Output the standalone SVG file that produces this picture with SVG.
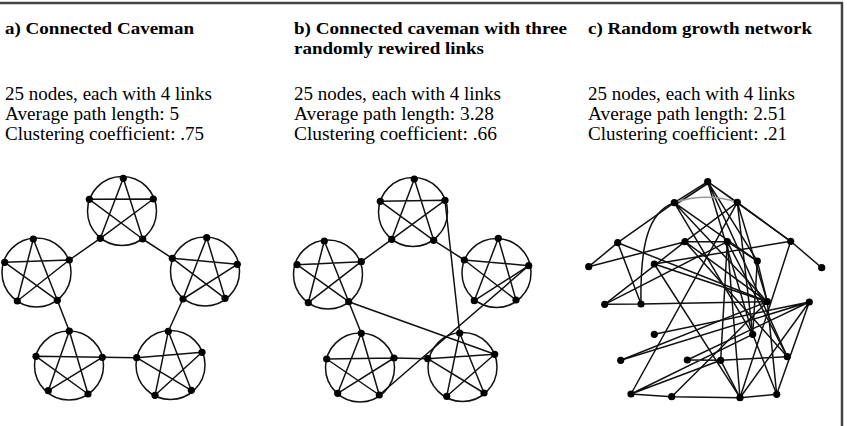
<svg xmlns="http://www.w3.org/2000/svg" width="847" height="426" viewBox="0 0 847 426">
<style>
.t{font-family:"Liberation Serif","Times New Roman",serif;font-size:18px;fill:#000}
.h{font-weight:bold;font-size:17px}
.e{stroke:#111;stroke-width:1.5;fill:none;stroke-linecap:round}
.r{stroke:#111;stroke-width:1.5;fill:none}
.n{fill:#000}
.frame{stroke:#444;stroke-width:2.5;fill:none}
</style>
<rect x="0" y="0" width="847" height="426" fill="#fff"/>
<path class="frame" d="M0,3 H842 V426"/>

<g id="labels">
<text class="t h" x="5" y="33.5" textLength="189" lengthAdjust="spacingAndGlyphs">a) Connected Caveman</text>
<text class="t h" x="294" y="33.5" textLength="273" lengthAdjust="spacingAndGlyphs">b) Connected caveman with three</text>
<text class="t h" x="294" y="53.5" textLength="190" lengthAdjust="spacingAndGlyphs">randomly rewired links</text>
<text class="t h" x="588" y="33.5" textLength="224" lengthAdjust="spacingAndGlyphs">c) Random growth network</text>
<text class="t" x="5" y="100" textLength="207" lengthAdjust="spacingAndGlyphs">25 nodes, each with 4 links</text>
<text class="t" x="5" y="120" textLength="174" lengthAdjust="spacingAndGlyphs">Average path length: 5</text>
<text class="t" x="5" y="140" textLength="199" lengthAdjust="spacingAndGlyphs">Clustering coefficient: .75</text>
<text class="t" x="294" y="100" textLength="207" lengthAdjust="spacingAndGlyphs">25 nodes, each with 4 links</text>
<text class="t" x="294" y="120" textLength="200" lengthAdjust="spacingAndGlyphs">Average path length: 3.28</text>
<text class="t" x="294" y="140" textLength="203" lengthAdjust="spacingAndGlyphs">Clustering coefficient: .66</text>
<text class="t" x="588" y="100" textLength="207" lengthAdjust="spacingAndGlyphs">25 nodes, each with 4 links</text>
<text class="t" x="588" y="120" textLength="199" lengthAdjust="spacingAndGlyphs">Average path length: 2.51</text>
<text class="t" x="588" y="140" textLength="199" lengthAdjust="spacingAndGlyphs">Clustering coefficient: .21</text>
</g>

<g id="connectors">
<!-- panel a rings and stars -->
<circle class="r" cx="122" cy="211" r="34.5"/>
<path class="e" d="M123.3,178.3L100.3,238.3M123.3,178.3L142.7,239M89.3,199.3L153.3,199M89.3,199.3L142.7,239M153.3,199L100.3,238.3"/>
<circle class="r" cx="36.5" cy="272.5" r="34.5"/>
<path class="e" d="M33.3,239L17.3,301M33.3,239L57.3,300.3M4.7,262.3L69.3,260M4.7,262.3L57.3,300.3M69.3,260L17.3,301"/>
<circle class="r" cx="205" cy="271.5" r="34.5"/>
<path class="e" d="M206.7,237.7L183,299M206.7,237.7L225,298.3M172.3,258.3L237.3,264.3M172.3,258.3L225,298.3M237.3,264.3L183,299"/>
<circle class="r" cx="69" cy="365.5" r="34.5"/>
<path class="e" d="M69.3,331L48.3,390.7M69.3,331L88,394M36,356.3L102.3,357.3M36,356.3L88,394M102.3,357.3L48.3,390.7"/>
<circle class="r" cx="170.5" cy="365" r="34.5"/>
<path class="e" d="M168.3,331.3L155,395.3M168.3,331.3L191.3,390.3M136.7,357.7L202,352.3M136.7,357.7L191.3,390.3M202,352.3L155,395.3"/>
<path class="e" d="M100.3,238.3L69.3,260M142.7,239L172.3,258.3M57.3,300.3L69.3,331M183,299L168.3,331.3M102.3,357.3L136.7,357.7"/>

<!-- panel b rings and stars -->
<circle class="r" cx="413" cy="212" r="34.5"/>
<path class="e" d="M414.3,179L391.7,239.3M414.3,179L433.7,240.3M380.3,201.3L445,200.3M380.3,201.3L433.7,240.3M445,200.3L391.7,239.3"/>
<circle class="r" cx="328" cy="274.5" r="34.5"/>
<path class="e" d="M324.3,241L308.3,302.7M324.3,241L348.7,301.7M297,264.7L361.3,261.7M297,264.7L348.7,301.7M361.3,261.7L308.3,302.7"/>
<circle class="r" cx="496.5" cy="273" r="34.5"/>
<path class="e" d="M498.3,238.3L474.3,300.7M498.3,238.3L516,300M464.3,260L528.7,265.7M464.3,260L516,300M528.7,265.7L474.3,300.7"/>
<circle class="r" cx="360" cy="367.5" r="34.5"/>
<path class="e" d="M361.3,333.3L337.7,393.3M361.3,333.3L379.3,395M326.7,359L394,358M326.7,359L379.3,395M394,358L337.7,393.3"/>
<circle class="r" cx="462.5" cy="367" r="34.5"/>
<path class="e" d="M459.7,333L446.7,396.3M459.7,333L484,393M427.7,358.7L494.7,354.3M427.7,358.7L484,393M494.7,354.3L446.7,396.3"/>
<path class="e" d="M391.7,239.3L361.3,261.7M433.7,240.3L464.3,260M348.7,301.7L361.3,333.3M394,358L427.7,358.7"/>
<path class="e" d="M445,200.3L459.7,333M348.7,301.7L494.7,354.3M528.7,265.7L379.3,395"/>

<!-- panel c -->
<path class="e" d="M707.7,181.7L674.3,202.7M707.7,183.5L675.5,204.5M707.7,181.7L737.3,202.3M707.7,181.7L790.7,241.3M707.7,181.7L757.3,261M707.7,181.7L752.7,334.3M707.7,181.7L787.3,356.7"/>
<path d="M674.3,202.7Q706,192 737.3,202.3" fill="none" stroke="#999" stroke-width="1.6"/>
<path class="e" d="M674.3,202.7C648,212 640,245 641,304"/>
<path class="e" d="M674.3,202.7L617.7,242.7M674.3,202.7L767.3,301.7M674.3,202.7L757.3,261M674.3,202.7L752.7,334.3"/>
<path class="e" d="M737.3,202.3L685,241.7M737.3,202.3L790.7,241.3M737.3,202.3L631,394M737.3,202.3L752.7,334.3M737.3,202.3L767.3,301.7"/>
<path class="e" d="M617.7,242.7L588.7,266.7M617.7,242.7L641,304M617.7,242.7L767.3,301.7"/>
<path class="e" d="M685,241.7L727.3,241.7M685,241.7L588.7,266.7M685,241.7L604.7,304.3M685,241.7L787.3,356.7M685,241.7L767.3,301.7"/>
<path class="e" d="M727.3,241.7L604.7,304.3M727.3,241.7L720.7,360.3M727.3,241.7L757.3,261M727.3,241.7L740,397.7M727.3,241.7L787.3,356.7"/>
<path class="e" d="M790.7,241.3L821.7,267.7M790.7,241.3L740,397.7M790.7,241.3L654.3,264"/>
<path class="e" d="M654.3,264L740,397.7M654.3,264L767.3,301.7"/>
<path class="e" d="M757.3,261L767.3,301.7M757.3,261L752.7,334.3"/>
<path class="e" d="M604.7,304.3L641,304M641,304L767.3,301.7"/>
<path class="e" d="M809.3,302L654.3,334.3M809.3,302L620.7,360.3M809.3,302L776.7,394.3M809.3,302L740,397.7M809.3,302L687.3,360"/>
<path class="e" d="M767.3,301.7L620.7,360.3M767.3,301.7L671.7,396.7M767.3,301.7L776.7,394.3"/>
<path class="e" d="M687.3,360L720.7,360.3M720.7,360.3L787.3,356.7M720.7,360.3L740,397.7M631,394L720.7,360.3M631,394L752.7,334.3"/>
<path class="e" d="M631,394L671.7,396.7M671.7,396.7L740,397.7M740,397.7L776.7,394.3M752.7,334.3L776.7,394.3"/>
</g>

<g id="nodes">
<g id="a-top"><circle class="n" cx="123.3" cy="178.3" r="3.6"/><circle class="n" cx="89.3" cy="199.3" r="3.6"/><circle class="n" cx="153.3" cy="199" r="3.6"/><circle class="n" cx="100.3" cy="238.3" r="3.6"/><circle class="n" cx="142.7" cy="239" r="3.6"/></g>
<g id="a-left"><circle class="n" cx="33.3" cy="239" r="3.6"/><circle class="n" cx="4.7" cy="262.3" r="3.6"/><circle class="n" cx="69.3" cy="260" r="3.6"/><circle class="n" cx="17.3" cy="301" r="3.6"/><circle class="n" cx="57.3" cy="300.3" r="3.6"/></g>
<g id="a-right"><circle class="n" cx="206.7" cy="237.7" r="3.6"/><circle class="n" cx="172.3" cy="258.3" r="3.6"/><circle class="n" cx="237.3" cy="264.3" r="3.6"/><circle class="n" cx="183" cy="299" r="3.6"/><circle class="n" cx="225" cy="298.3" r="3.6"/></g>
<g id="a-bl"><circle class="n" cx="69.3" cy="331" r="3.6"/><circle class="n" cx="36" cy="356.3" r="3.6"/><circle class="n" cx="102.3" cy="357.3" r="3.6"/><circle class="n" cx="48.3" cy="390.7" r="3.6"/><circle class="n" cx="88" cy="394" r="3.6"/></g>
<g id="a-br"><circle class="n" cx="168.3" cy="331.3" r="3.6"/><circle class="n" cx="136.7" cy="357.7" r="3.6"/><circle class="n" cx="202" cy="352.3" r="3.6"/><circle class="n" cx="155" cy="395.3" r="3.6"/><circle class="n" cx="191.3" cy="390.3" r="3.6"/></g>

<g id="b-top"><circle class="n" cx="414.3" cy="179" r="3.6"/><circle class="n" cx="380.3" cy="201.3" r="3.6"/><circle class="n" cx="445" cy="200.3" r="3.6"/><circle class="n" cx="391.7" cy="239.3" r="3.6"/><circle class="n" cx="433.7" cy="240.3" r="3.6"/></g>
<g id="b-left"><circle class="n" cx="324.3" cy="241" r="3.6"/><circle class="n" cx="297" cy="264.7" r="3.6"/><circle class="n" cx="361.3" cy="261.7" r="3.6"/><circle class="n" cx="308.3" cy="302.7" r="3.6"/><circle class="n" cx="348.7" cy="301.7" r="3.6"/></g>
<g id="b-right"><circle class="n" cx="498.3" cy="238.3" r="3.6"/><circle class="n" cx="464.3" cy="260" r="3.6"/><circle class="n" cx="528.7" cy="265.7" r="3.6"/><circle class="n" cx="474.3" cy="300.7" r="3.6"/><circle class="n" cx="516" cy="300" r="3.6"/></g>
<g id="b-bl"><circle class="n" cx="361.3" cy="333.3" r="3.6"/><circle class="n" cx="326.7" cy="359" r="3.6"/><circle class="n" cx="394" cy="358" r="3.6"/><circle class="n" cx="337.7" cy="393.3" r="3.6"/><circle class="n" cx="379.3" cy="395" r="3.6"/></g>
<g id="b-br"><circle class="n" cx="459.7" cy="333" r="3.6"/><circle class="n" cx="427.7" cy="358.7" r="3.6"/><circle class="n" cx="494.7" cy="354.3" r="3.6"/><circle class="n" cx="446.7" cy="396.3" r="3.6"/><circle class="n" cx="484" cy="393" r="3.6"/></g>

<g id="c-nodes">
<circle id="c1" class="n" cx="707.7" cy="181.7" r="3.6"/>
<circle id="c2" class="n" cx="674.3" cy="202.7" r="3.6"/>
<circle id="c3" class="n" cx="737.3" cy="202.3" r="3.6"/>
<circle id="c4" class="n" cx="617.7" cy="242.7" r="3.6"/>
<circle id="c5" class="n" cx="685" cy="241.7" r="3.6"/>
<circle id="c6" class="n" cx="727.3" cy="241.7" r="3.6"/>
<circle id="c7" class="n" cx="790.7" cy="241.3" r="3.6"/>
<circle id="c8" class="n" cx="588.7" cy="266.7" r="3.6"/>
<circle id="c9" class="n" cx="654.3" cy="264" r="3.6"/>
<circle id="c10" class="n" cx="757.3" cy="261" r="3.6"/>
<circle id="c11" class="n" cx="821.7" cy="267.7" r="3.6"/>
<circle id="c12" class="n" cx="604.7" cy="304.3" r="3.6"/>
<circle id="c13" class="n" cx="641" cy="304" r="3.6"/>
<circle id="c14" class="n" cx="767.3" cy="301.7" r="3.6"/>
<circle id="c15" class="n" cx="809.3" cy="302" r="3.6"/>
<circle id="c16" class="n" cx="654.3" cy="334.3" r="3.6"/>
<circle id="c17" class="n" cx="752.7" cy="334.3" r="3.6"/>
<circle id="c18" class="n" cx="620.7" cy="360.3" r="3.6"/>
<circle id="c19" class="n" cx="687.3" cy="360" r="3.6"/>
<circle id="c20" class="n" cx="720.7" cy="360.3" r="3.6"/>
<circle id="c21" class="n" cx="787.3" cy="356.7" r="3.6"/>
<circle id="c22" class="n" cx="631" cy="394" r="3.6"/>
<circle id="c23" class="n" cx="671.7" cy="396.7" r="3.6"/>
<circle id="c24" class="n" cx="740" cy="397.7" r="3.6"/>
<circle id="c25" class="n" cx="776.7" cy="394.3" r="3.6"/>
</g>
</g>
</svg>
